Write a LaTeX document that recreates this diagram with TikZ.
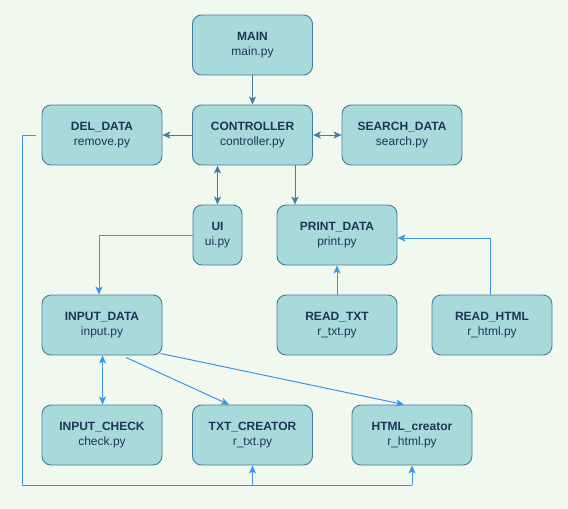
\documentclass[tikz,border=0pt]{standalone}
\usepackage{fontspec}
\setmainfont{Liberation Sans}
\usetikzlibrary{arrows.meta,calc}
\definecolor{bg}{HTML}{F1F9EF}
\definecolor{boxfill}{HTML}{A8DADC}
\definecolor{boxline}{HTML}{457B9D}
\definecolor{boxtext}{HTML}{1D3557}
\definecolor{lightarrow}{HTML}{3A94EC}
\tikzset{
  modbox/.style={draw=boxline, fill=boxfill, line width=0.9pt, rounded corners=9pt,
    minimum height=60pt, inner sep=0pt, align=center, text=boxtext,
    font=\fontsize{12pt}{15.5pt}\selectfont},
  wide/.style={minimum width=120pt},
  darkline/.style={draw=boxline, line width=1pt, -{Stealth[length=8pt,width=7pt,inset=2pt]}},
  darkboth/.style={draw=boxline, line width=1pt, {Stealth[length=8pt,width=7pt,inset=2pt]}-{Stealth[length=8pt,width=7pt,inset=2pt]}},
  lightline/.style={draw=lightarrow, line width=1pt, -{Stealth[length=8pt,width=7pt,inset=2pt]}},
  lightboth/.style={draw=lightarrow, line width=1pt, {Stealth[length=8pt,width=7pt,inset=2pt]}-{Stealth[length=8pt,width=7pt,inset=2pt]}},
  lightplain/.style={draw=lightarrow, line width=1pt},
}
\begin{document}
\begin{tikzpicture}[x=1pt,y=-1pt]
\fill[bg] (0,0) rectangle (568,509);
\useasboundingbox (0,0) rectangle (568,509);

\node[modbox, wide] (main) at (252.5,45) {\textbf{MAIN}\\main.py};
\node[modbox, wide] (del) at (102,135) {\textbf{DEL\_DATA}\\remove.py};
\node[modbox, wide] (ctrl) at (252.5,135) {\textbf{CONTROLLER}\\controller.py};
\node[modbox, wide] (search) at (402,135) {\textbf{SEARCH\_DATA}\\search.py};
\node[modbox, minimum width=49pt] (ui) at (217.5,235) {\textbf{UI}\\ui.py};
\node[modbox, wide] (print) at (337,235) {\textbf{PRINT\_DATA}\\print.py};
\node[modbox, wide] (input) at (102,325) {\textbf{INPUT\_DATA}\\input.py};
\node[modbox, wide] (rtxt) at (337,325) {\textbf{READ\_TXT}\\r\_txt.py};
\node[modbox, wide] (rhtml) at (492,325) {\textbf{READ\_HTML}\\r\_html.py};
\node[modbox, wide] (check) at (102,435) {\textbf{INPUT\_CHECK}\\check.py};
\node[modbox, wide] (txtc) at (252.5,435) {\textbf{TXT\_CREATOR}\\r\_txt.py};
\node[modbox, wide] (htmlc) at (412,435) {\textbf{HTML\_creator}\\r\_html.py};

% dark connectors
\draw[darkline] (main.south) -- (ctrl.north);
\draw[darkline] (ctrl.west) -- (del.east);
\draw[darkboth] (ctrl.east) -- (search.west);
\draw[darkboth] (ctrl.south -| ui.north) -- (ui.north);
\draw[darkline] ([xshift=42.5pt]ctrl.south) -- ([xshift=-42pt]print.north);

% light connectors
\draw[lightline] (ui.west) -| ([xshift=-3pt]input.north);
\draw[lightboth] ([xshift=0.5pt]input.south) -- ([xshift=0.5pt]check.north);
\draw[lightline] ([xshift=24pt,yshift=-2pt]input.south) -- ([xshift=-23.5pt]txtc.north);
\draw[lightline] ([xshift=-2pt,yshift=2pt]input.south east) -- ([xshift=-8pt]htmlc.north);
\draw[lightline] (rtxt.north) -- (print.south);
\draw[lightline] ([xshift=-2pt]rhtml.north) |- ([yshift=-3pt]print.east);

\coordinate (dl) at (22,135);
\coordinate (bl) at (22,485);
\coordinate (br) at (412,485);
\coordinate (bm) at (252.5,485);
\draw[lightplain] ([xshift=-6pt]del.west) -- (dl) -- (bl) -- (br);
\draw[lightline] (br) -- (htmlc.south);
\draw[lightline] (bm) -- (txtc.south);
\end{tikzpicture}
\end{document}
